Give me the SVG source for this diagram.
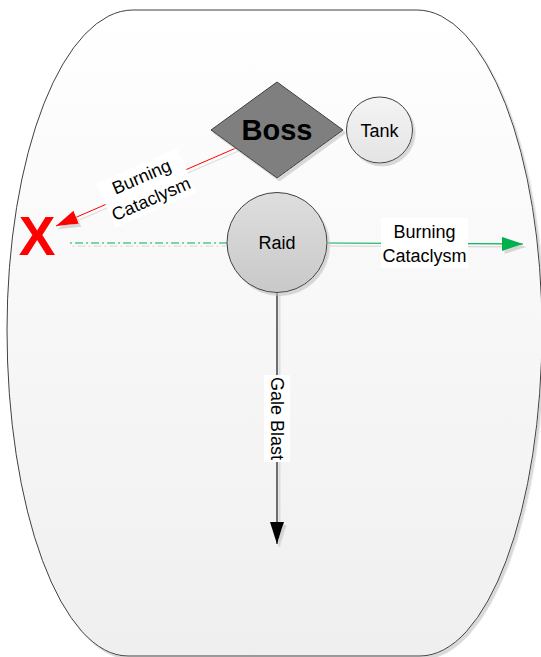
<svg xmlns="http://www.w3.org/2000/svg" width="541" height="657" viewBox="0 0 541 657">
  <style>
    .lbl { font-family: "Liberation Sans", Arial, sans-serif; font-size: 18px; fill: #000; text-anchor: middle; }
    .node { stroke: #404040; stroke-width: 1; }
    .bg { fill: #ffffff; }
  </style>
  <defs>
    <linearGradient id="areaFill" x1="0" y1="0" x2="0" y2="1">
      <stop offset="0" stop-color="#ffffff"/>
      <stop offset="1" stop-color="#efefef"/>
    </linearGradient>
    <linearGradient id="raidFill" x1="0" y1="0" x2="0" y2="1">
      <stop offset="0" stop-color="#dedede"/>
      <stop offset="1" stop-color="#c9c9c9"/>
    </linearGradient>
    <linearGradient id="tankFill" x1="0" y1="0" x2="0" y2="1">
      <stop offset="0" stop-color="#f4f4f4"/>
      <stop offset="1" stop-color="#e4e4e4"/>
    </linearGradient>
    <!-- soft offset shadow; region in user space so straight lines keep it too -->
    <filter id="shadow" filterUnits="userSpaceOnUse" x="0" y="0" width="541" height="657">
      <feDropShadow dx="2.5" dy="3" stdDeviation="0.6" flood-color="#bfbfbf" flood-opacity="0.6"/>
    </filter>
    <marker id="headBlack" viewBox="0 0 22 14" refX="22" refY="7" markerWidth="22" markerHeight="14" markerUnits="userSpaceOnUse" orient="auto">
      <path d="M0,0 L22,7 L0,14 Z" fill="#000000"/>
    </marker>
    <marker id="headGreen" viewBox="0 0 21 14" refX="21" refY="7" markerWidth="21" markerHeight="14" markerUnits="userSpaceOnUse" orient="auto">
      <path d="M0,0 L21,7 L0,14 Z" fill="#00b050"/>
    </marker>
    <marker id="headRed" viewBox="0 0 22 14" refX="22" refY="7" markerWidth="22" markerHeight="14" markerUnits="userSpaceOnUse" orient="auto">
      <path d="M0,0 L22,7 L0,14 Z" fill="#ff0000"/>
    </marker>
  </defs>

  <rect width="541" height="657" fill="#ffffff"/>

  <!-- encounter area -->
  <g id="area">
    <path d="M133,10 H417 A125,320 0 0 1 542,330 A122,326 0 0 1 420,656 H128 A121,326 0 0 1 7,330 A126,320 0 0 1 133,10 Z"
          fill="url(#areaFill)" stroke="#404040" stroke-width="1" filter="url(#shadow)"/>
  </g>

  <!-- connectors -->
  <g id="connectors" fill="none">
    <!-- Gale Blast: Raid downwards -->
    <g id="gale-blast">
      <line x1="277" y1="292" x2="277" y2="544" stroke="#404040" stroke-width="1.5" marker-end="url(#headBlack)" filter="url(#shadow)"/>
      <rect class="bg" x="264" y="375" width="26" height="87"/>
      <text class="lbl" transform="translate(277,418.5) rotate(90)" y="6.5">Gale Blast</text>
    </g>
    <!-- Burning Cataclysm: Raid to the right -->
    <g id="cataclysm-right">
      <line x1="327" y1="243" x2="523" y2="244" stroke="#00b050" stroke-width="1.2" marker-end="url(#headGreen)" filter="url(#shadow)"/>
      <rect class="bg" x="381" y="218" width="87" height="50"/>
      <text class="lbl" x="424.5" y="238">Burning</text>
      <text class="lbl" x="424.5" y="262">Cataclysm</text>
    </g>
    <!-- Raid to the X mark -->
    <line id="raid-to-x" x1="227" y1="243" x2="67" y2="243" stroke="#00b050" stroke-width="1.2" stroke-dasharray="8,3,2,3" filter="url(#shadow)"/>
    <!-- Burning Cataclysm: Boss towards the X mark -->
    <g id="cataclysm-boss">
      <line x1="236" y1="148" x2="56" y2="226" stroke="#ff0000" stroke-width="1" marker-end="url(#headRed)" filter="url(#shadow)"/>
      <g transform="translate(146,187) rotate(-23.5)">
        <rect class="bg" x="-44" y="-23" width="88" height="48"/>
        <text class="lbl" x="0" y="-5">Burning</text>
        <text class="lbl" x="0" y="19">Cataclysm</text>
      </g>
    </g>
  </g>

  <!-- nodes -->
  <g id="boss">
    <path class="node" d="M277,82 L343,130 L277,178 L211,130 Z" fill="#7f7f7f" filter="url(#shadow)"/>
    <text x="277" y="140" font-family="Liberation Sans, Arial, sans-serif" font-size="29" font-weight="bold" text-anchor="middle" fill="#000">Boss</text>
  </g>

  <g id="tank">
    <circle class="node" cx="379.5" cy="130" r="33" fill="url(#tankFill)" filter="url(#shadow)"/>
    <text class="lbl" x="379.5" y="137">Tank</text>
  </g>

  <g id="raid">
    <circle class="node" cx="277" cy="242.5" r="50" fill="url(#raidFill)" filter="url(#shadow)"/>
    <text class="lbl" x="277" y="248.5">Raid</text>
  </g>

  <g id="x-mark">
    <text x="37" y="255" font-family="Liberation Sans, Arial, sans-serif" font-size="55" font-weight="bold" text-anchor="middle" fill="#ff0000">X</text>
  </g>
</svg>
